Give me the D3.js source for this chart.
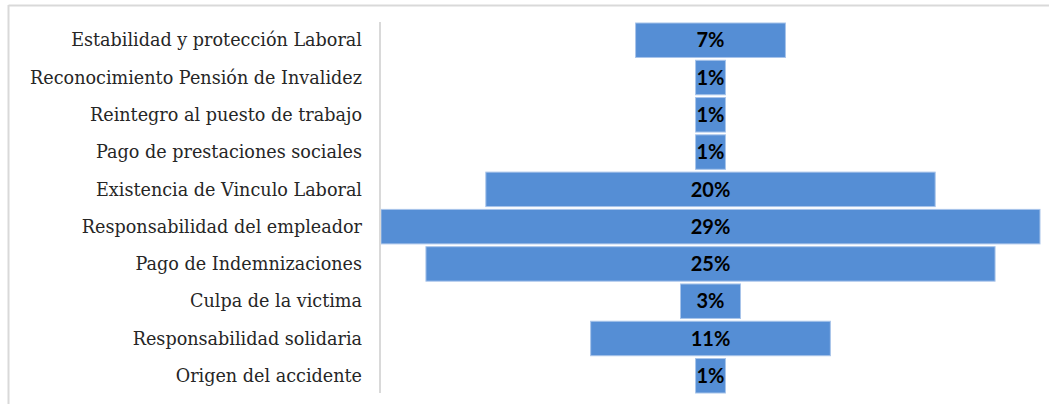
<!DOCTYPE html>
<html>
<head>
<meta charset="utf-8">
<script src="https://cdnjs.cloudflare.com/ajax/libs/d3/7.8.5/d3.min.js"></script>
<style>
  body { margin: 0; background: #fff; }
</style>
</head>
<body>
<script>
// data (share of cases, %)
const categories = [
  "Estabilidad y protección Laboral",
  "Reconocimiento Pensión de Invalidez",
  "Reintegro al puesto de trabajo",
  "Pago de prestaciones sociales",
  "Existencia de Vinculo Laboral",
  "Responsabilidad del empleador",
  "Pago de Indemnizaciones",
  "Culpa de la victima",
  "Responsabilidad solidaria",
  "Origen del accidente"
];
const values = [6.67, 1.33, 1.33, 1.33, 20.0, 29.33, 25.33, 2.67, 10.67, 1.33];
const valueLabels = ["7%", "1%", "1%", "1%", "20%", "29%", "25%", "3%", "11%", "1%"];

const canvWidth = 1049, canvHeight = 404;
const svg = d3.select("body").append("svg")
  .attr("width", canvWidth)
  .attr("height", canvHeight);

// chart frame (only top and left edges visible)
svg.append("line").attr("x1", 8.5).attr("x2", canvWidth).attr("y1", 5.5).attr("y2", 5.5)
  .attr("stroke", "#d9d9d9").attr("stroke-width", 2);
svg.append("line").attr("x1", 8.5).attr("x2", 8.5).attr("y1", 5).attr("y2", canvHeight)
  .attr("stroke", "#d9d9d9").attr("stroke-width", 2);

const plotLeft = 381, plotRight = 1040;
const plotTop = 21.5, plotBottom = 394.5;
const maxVal = d3.max(values);

// centred bars: x scale runs from -max/2 to +max/2
const x = d3.scaleLinear()
  .domain([-maxVal / 2, maxVal / 2])
  .range([plotLeft, plotRight]);

const y = d3.scaleBand()
  .domain(categories)
  .range([plotTop, plotBottom])
  .paddingInner(0.075)
  .paddingOuter(0.04);

// bars
svg.append("g").selectAll("rect")
  .data(categories)
  .join("rect")
  .attr("x", (d, i) => x(-values[i] / 2))
  .attr("width", (d, i) => x(values[i] / 2) - x(-values[i] / 2))
  .attr("y", d => y(d))
  .attr("height", y.bandwidth())
  .attr("fill", "#558ed5")
  .attr("stroke", "#a8c4ea")
  .attr("stroke-width", 1);

// vertical axis line
svg.append("line")
  .attr("x1", plotLeft - 1).attr("x2", plotLeft - 1)
  .attr("y1", 22).attr("y2", 393)
  .attr("stroke", "#d9d9d9").attr("stroke-width", 2);

// category labels
const yAxis = svg.append("g")
  .attr("transform", "translate(" + (plotLeft - 19) + ",0)")
  .call(d3.axisLeft(y).tickSize(0).tickPadding(0));
yAxis.select(".domain").remove();
yAxis.selectAll("text")
  .attr("font-family", "'DejaVu Serif', serif")
  .attr("font-size", "17.6px")
  .attr("fill", "#262626")
  .attr("dy", "0.35em");

// value labels
svg.append("g").selectAll("text")
  .data(categories)
  .join("text")
  .attr("x", x(0))
  .attr("y", d => y(d) + y.bandwidth() / 2)
  .attr("dy", "0.36em")
  .attr("text-anchor", "middle")
  .attr("font-family", "Lato, sans-serif")
  .attr("font-weight", "bold")
  .attr("font-size", "20px")
  .attr("fill", "#000")
  .text((d, i) => valueLabels[i]);
</script>
</body>
</html>
